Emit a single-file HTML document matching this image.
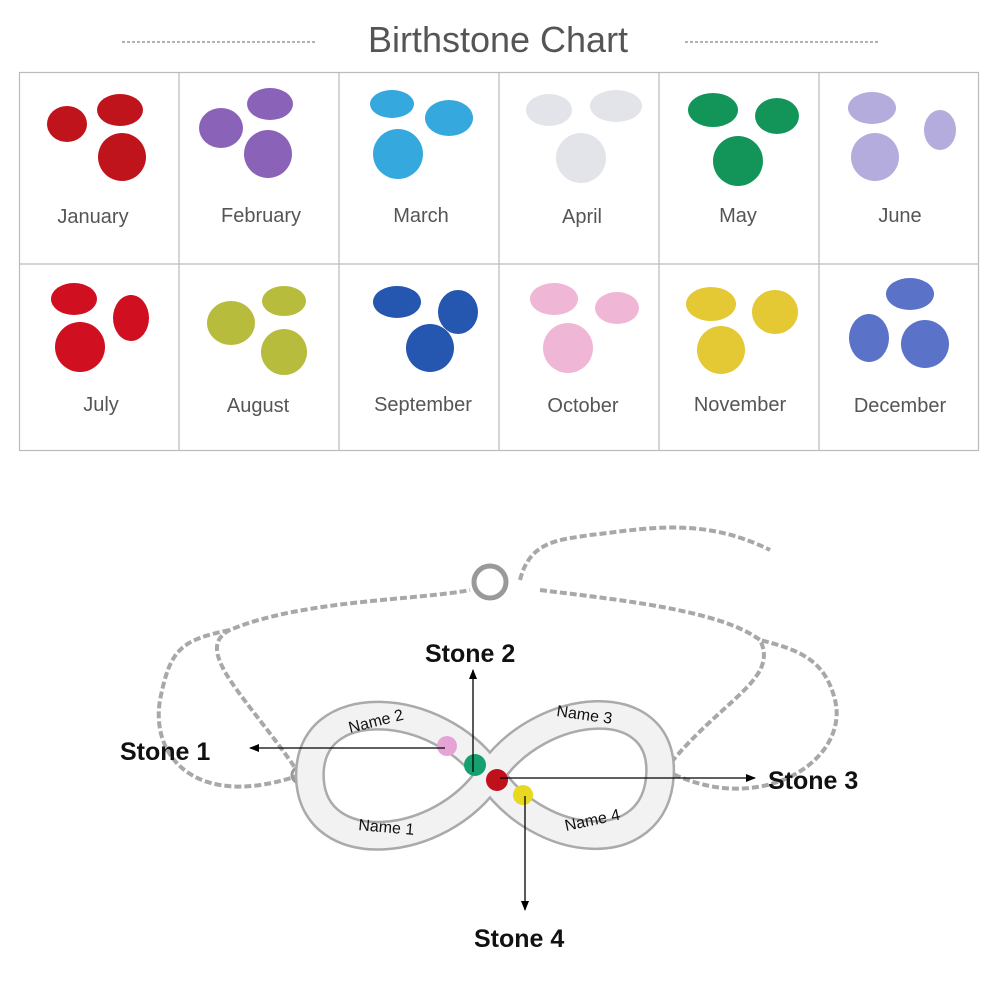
<!DOCTYPE html><html><head><style>
body{margin:0;background:#fff;width:1000px;height:1000px;overflow:hidden;font-family:"Liberation Sans",sans-serif}
</style></head><body>
<svg width="1000" height="1000" viewBox="0 0 1000 1000" xmlns="http://www.w3.org/2000/svg" font-family="Liberation Sans, sans-serif">
<defs>
<marker id="ah" markerWidth="10" markerHeight="10" refX="9" refY="5" orient="auto" markerUnits="userSpaceOnUse"><path d="M0,1 L10,5 L0,9 Z" fill="#000"/></marker>
<radialGradient id="g" cx="40%" cy="35%" r="70%"><stop offset="0" stop-color="#fff" stop-opacity=".5"/><stop offset=".6" stop-color="#fff" stop-opacity="0"/><stop offset="1" stop-color="#000" stop-opacity=".15"/></radialGradient>
</defs>
<text x="498" y="52" font-size="36" fill="#555" text-anchor="middle">Birthstone Chart</text>
<line x1="122" y1="42" x2="316" y2="42" stroke="#666" stroke-dasharray="3 2"/>
<line x1="685" y1="42" x2="878" y2="42" stroke="#666" stroke-dasharray="3 2"/>
<g stroke="#bbb" stroke-width="1.2" fill="none">
<rect x="19.5" y="72.5" width="959" height="378"/>
<line x1="19" y1="264" x2="978" y2="264"/>
<line x1="179" y1="72" x2="179" y2="451"/><line x1="339" y1="72" x2="339" y2="451"/>
<line x1="499" y1="72" x2="499" y2="451"/><line x1="659" y1="72" x2="659" y2="451"/>
<line x1="819" y1="72" x2="819" y2="451"/>
</g>
<g font-size="20" fill="#555" text-anchor="middle">
<text x="93" y="223">January</text><text x="261" y="222">February</text><text x="421" y="222">March</text>
<text x="582" y="223">April</text><text x="738" y="222">May</text><text x="900" y="222">June</text>
<text x="101" y="411">July</text><text x="258" y="412">August</text><text x="423" y="411">September</text>
<text x="583" y="412">October</text><text x="740" y="411">November</text><text x="900" y="412">December</text>
</g>
<g>
<g fill="#c0141c"><ellipse cx="67" cy="124" rx="20" ry="18"/><ellipse cx="120" cy="110" rx="23" ry="16"/><circle cx="122" cy="157" r="24"/></g>
<g fill="#8a62b8"><ellipse cx="221" cy="128" rx="22" ry="20"/><ellipse cx="270" cy="104" rx="23" ry="16"/><circle cx="268" cy="154" r="24"/></g>
<g fill="#35a8de"><ellipse cx="392" cy="104" rx="22" ry="14"/><ellipse cx="449" cy="118" rx="24" ry="18"/><circle cx="398" cy="154" r="25"/></g>
<g fill="#e2e4ea"><ellipse cx="549" cy="110" rx="23" ry="16"/><ellipse cx="616" cy="106" rx="26" ry="16"/><circle cx="581" cy="158" r="25"/></g>
<g fill="#13955a"><ellipse cx="713" cy="110" rx="25" ry="17"/><ellipse cx="777" cy="116" rx="22" ry="18"/><circle cx="738" cy="161" r="25"/></g>
<g fill="#b4acdc"><ellipse cx="872" cy="108" rx="24" ry="16"/><ellipse cx="940" cy="130" rx="16" ry="20"/><circle cx="875" cy="157" r="24"/></g>
<g fill="#d01020"><ellipse cx="74" cy="299" rx="23" ry="16"/><ellipse cx="131" cy="318" rx="18" ry="23"/><circle cx="80" cy="347" r="25"/></g>
<g fill="#b8bc3c"><ellipse cx="231" cy="323" rx="24" ry="22"/><ellipse cx="284" cy="301" rx="22" ry="15"/><circle cx="284" cy="352" r="23"/></g>
<g fill="#2556b0"><ellipse cx="397" cy="302" rx="24" ry="16"/><ellipse cx="458" cy="312" rx="20" ry="22"/><circle cx="430" cy="348" r="24"/></g>
<g fill="#f0b6d6"><ellipse cx="554" cy="299" rx="24" ry="16"/><ellipse cx="617" cy="308" rx="22" ry="16"/><circle cx="568" cy="348" r="25"/></g>
<g fill="#e4c834"><ellipse cx="711" cy="304" rx="25" ry="17"/><ellipse cx="775" cy="312" rx="23" ry="22"/><circle cx="721" cy="350" r="24"/></g>
<g fill="#5a72c8"><ellipse cx="910" cy="294" rx="24" ry="16"/><ellipse cx="869" cy="338" rx="20" ry="24"/><circle cx="925" cy="344" r="24"/></g>
</g>
<g fill="none" stroke="#a8a8a8" stroke-width="4" stroke-dasharray="7 3">
<path d="M300 775 C 250 700, 190 650, 230 630 C 300 600, 420 600, 470 590"/>
<path d="M300 775 C 200 810, 150 760, 160 700 C 170 650, 180 640, 230 630"/>
<path d="M665 770 C 720 700, 780 680, 760 640 C 720 610, 620 600, 540 590"/>
<path d="M665 770 C 760 820, 850 760, 835 700 C 825 660, 800 650, 760 640"/>
<path d="M520 580 C 530 540, 560 540, 590 535 C 640 530, 700 515, 770 550"/>
</g>
<circle cx="490" cy="582" r="16" fill="none" stroke="#999" stroke-width="5"/>
<circle cx="300" cy="775" r="8" fill="none" stroke="#999" stroke-width="3"/>
<circle cx="665" cy="770" r="8" fill="none" stroke="#999" stroke-width="3"/>
<path d="M490 775 C 440 700, 305 690, 310 780 C 315 860, 440 850, 490 775 C 540 700, 665 690, 660 775 C 655 860, 540 850, 490 775 Z" fill="none" stroke="#aaa" stroke-width="30"/>
<path d="M490 775 C 440 700, 305 690, 310 780 C 315 860, 440 850, 490 775 C 540 700, 665 690, 660 775 C 655 860, 540 850, 490 775 Z" fill="none" stroke="#f2f2f2" stroke-width="25"/>
<g font-size="16" fill="#111">
<text x="350" y="733" transform="rotate(-14 350 733)">Name 2</text>
<text x="556" y="716" transform="rotate(8 556 716)">Name 3</text>
<text x="358" y="830" transform="rotate(5 358 830)">Name 1</text>
<text x="566" y="831" transform="rotate(-12 566 831)">Name 4</text>
</g>
<circle cx="447" cy="746" r="10" fill="#e6a4d6"/><circle cx="475" cy="765" r="11" fill="#16a070"/>
<circle cx="497" cy="780" r="11" fill="#c0101c"/><circle cx="523" cy="795" r="10" fill="#e8d820"/>
<g stroke="#000" stroke-width="1.3" fill="none">
<line x1="445" y1="748" x2="250" y2="748" marker-end="url(#ah)"/>
<line x1="473" y1="772" x2="473" y2="670" marker-end="url(#ah)"/>
<line x1="500" y1="778" x2="755" y2="778" marker-end="url(#ah)"/>
<line x1="525" y1="796" x2="525" y2="910" marker-end="url(#ah)"/>
</g>
<g font-size="25" font-weight="bold" fill="#111">
<text x="120" y="760">Stone 1</text><text x="425" y="662">Stone 2</text>
<text x="768" y="789">Stone 3</text><text x="474" y="947">Stone 4</text>
</g>
</svg>
</body></html>
